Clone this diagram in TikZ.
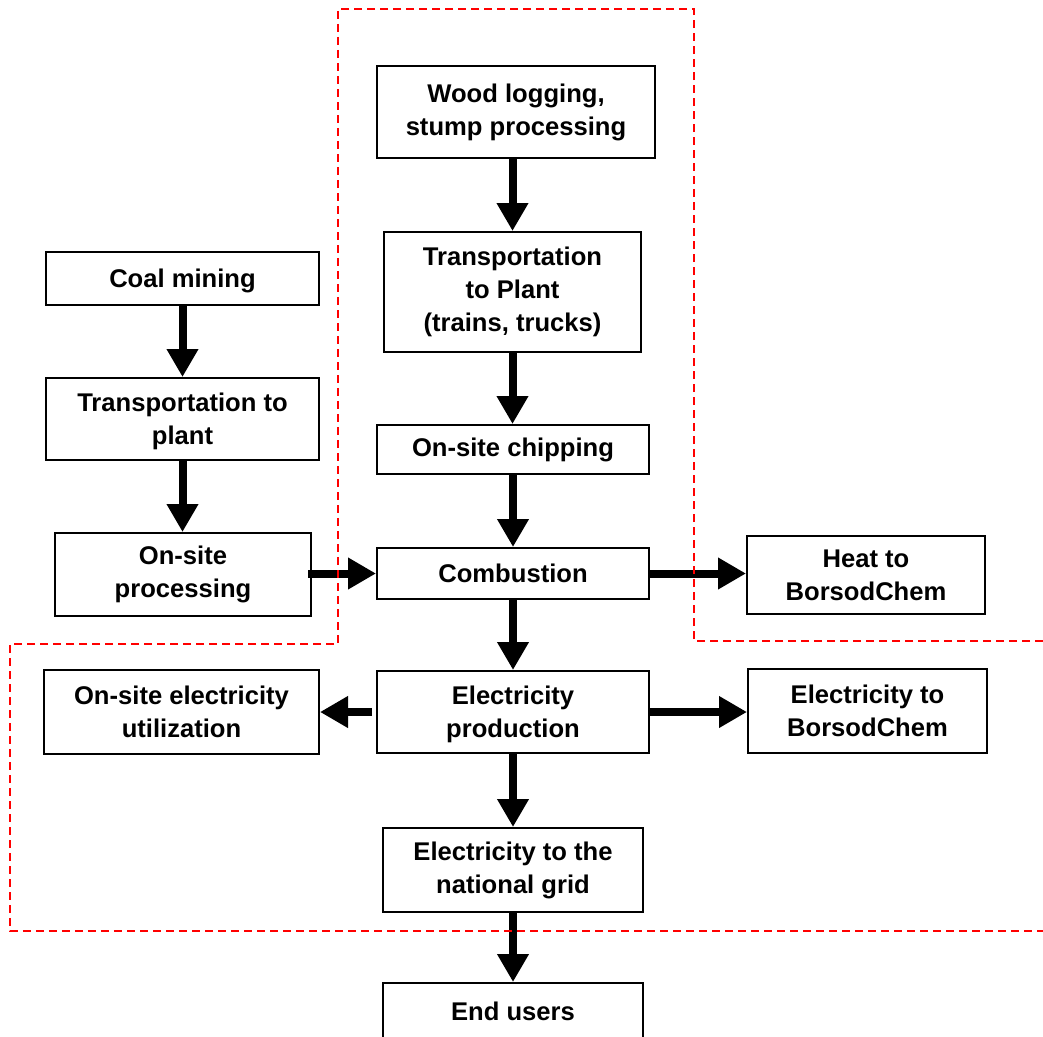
\documentclass[tikz,border=0pt]{standalone}
\usepackage{fontspec}
\setmainfont{Liberation Sans}
\usetikzlibrary{arrows.meta}
\begin{document}
\begin{tikzpicture}[x=1pt,y=-1pt,
  box/.style={draw=black, line width=2pt, fill=white, inner sep=0pt, align=center,
    font=\fontsize{25.6}{33}\selectfont\bfseries},
  low/.style={text depth=0pt},
  arr/.style={line width=8pt, -{Triangle[length=28pt,width=30pt]}},
  boundary/.style={draw=red, line width=1.4pt, dash pattern=on 8pt off 5pt}]
\useasboundingbox (0,0) rectangle (1043,1036);

% centre column
\node[box, minimum width=278pt, minimum height=92pt]  (wood)  at (516,112)   {Wood logging,\\stump processing};
\node[box, minimum width=257pt, minimum height=120pt] (trans) at (512.5,292) {Transportation\\to Plant\\(trains, trucks)};
\node[box, minimum width=272pt, minimum height=49pt]  (chip)  at (513,449.5) {On-site chipping};
\node[box, minimum width=272pt, minimum height=51pt]  (comb)  at (513,573.5) {Combustion};
\node[box, low, minimum width=272pt, minimum height=82pt]  (elec)  at (513,712)   {Electricity\\production};
\node[box, minimum width=260pt, minimum height=84pt]  (grid)  at (513,870)   {Electricity to the\\national grid};
\node[box, minimum width=260pt, minimum height=56pt]  (endu)  at (513,1011)  {End users};

% left column
\node[box, low, minimum width=273pt, minimum height=53pt]  (coal)   at (182.5,278.5) {Coal mining};
\node[box, low, minimum width=273pt, minimum height=82pt]  (tplant) at (182.5,419)   {Transportation to\\plant};
\node[box, minimum width=256pt, minimum height=83pt]  (proc)   at (183,574.5)   {On-site\\processing};
\node[box, minimum width=275pt, minimum height=84pt]  (util)   at (181.5,712)   {On-site electricity\\utilization};

% right column
\node[box, low, minimum width=238pt, minimum height=78pt]  (heat)    at (866,575)   {Heat to\\BorsodChem};
\node[box, minimum width=239pt, minimum height=84pt]  (eborsod) at (867.5,711) {Electricity to\\BorsodChem};

% connectors
\draw[arr] (trans.north |- wood.south) -- (trans.north);
\draw[arr] (trans.south) -- (chip.north -| trans.south);
\draw[arr] (chip.south) -- (comb.north);
\draw[arr] (comb.south) -- (elec.north);
\draw[arr] (elec.south) -- (grid.north);
\draw[arr] (grid.south) -- (endu.north);
\draw[arr] (coal.south) -- (tplant.north);
\draw[arr] (tplant.south) -- (proc.north -| tplant.south);
\draw[arr] ([xshift=-4pt]proc.east |- comb.west) -- (comb.west);
\draw[arr] (comb.east) -- (heat.west |- comb.east);
\draw[arr] ([xshift=-4pt]elec.west) -- (util.east |- elec.west);
\draw[arr] (elec.east) -- (eborsod.west |- elec.east);

% system boundary
\path[boundary] (1043,641) -- (694,641) -- (694,9) -- (338,9) -- (338,644)
  -- (10,644) -- (10,931) -- (1043,931);
\end{tikzpicture}
\end{document}
